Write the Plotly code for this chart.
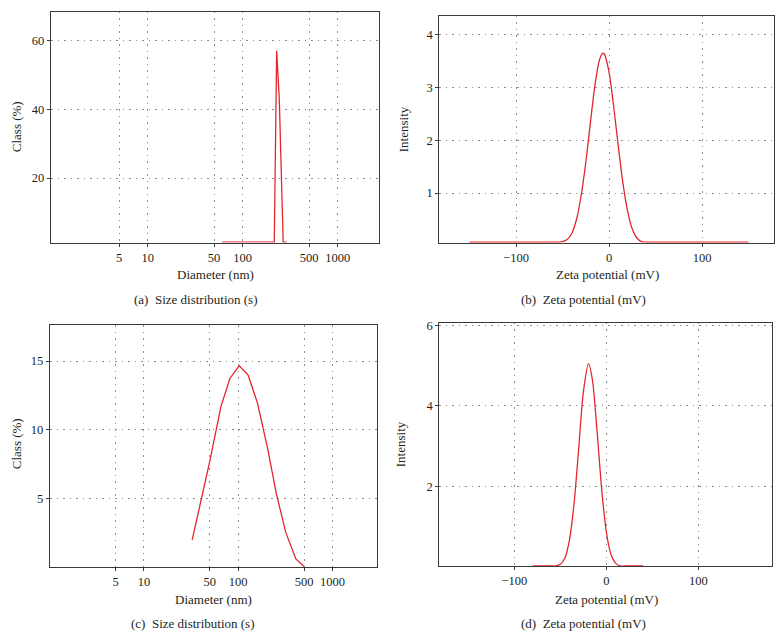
import plotly.graph_objects as go

# ---------------- data ----------------
# (a) size distribution
a_diam = [61, 100, 150, 200, 215, 228, 243, 267, 280, 290]
a_class = [1.3, 1.3, 1.3, 1.3, 1.3, 57.1, 42.7, 1.3, 1.3, 1.3]

# (b) zeta potential
b_mv = [-150, -120, -90, -70, -60, -55, -50, -45, -40, -35, -30, -25, -20, -15, -10,
        -6.5, -5, 0, 5, 10, 15, 20, 25, 30, 35, 40, 45, 60, 90, 120, 150]
b_int = [0.07, 0.07, 0.07, 0.07, 0.07, 0.07, 0.08, 0.12, 0.24, 0.50, 0.95, 1.58, 2.34, 3.06, 3.54,
         3.65, 3.63, 3.29, 2.64, 1.88, 1.18, 0.66, 0.32, 0.15, 0.08, 0.07, 0.07, 0.07, 0.07, 0.07, 0.07]

# (c) size distribution
c_diam = [32.5, 40.5, 50, 65.6, 81.6, 102.5, 127.6, 160.6, 205, 255, 320, 409, 501]
c_class = [1.98, 4.85, 7.71, 11.68, 13.73, 14.65, 13.97, 11.92, 8.67, 5.30, 2.53, 0.60, 0.05]

# (d) zeta potential
d_mv = [-80, -70, -60, -55, -50, -45, -40, -35, -30, -25, -19.3, -15, -10, -5, 0, 5, 10, 15, 20, 30, 40]
d_int = [0.02, 0.02, 0.02, 0.02, 0.06, 0.22, 0.67, 1.58, 2.94, 4.33, 5.05, 4.63, 3.36, 1.92, 0.87, 0.31, 0.09, 0.02, 0.02, 0.02, 0.02]

size_ticks = [5, 10, 50, 100, 500, 1000]
size_ticktext = ["5", "10", "50", "100", "500", "1000"]
zeta_ticks = [-100, 0, 100]
zeta_ticktext = ["\u2212100", "0", "100"]

captions = ["(a)\u2002Size distribution (s)", "(b)\u2002Zeta potential (mV)",
            "(c)\u2002Size distribution (s)", "(d)\u2002Zeta potential (mV)"]

# ---------------- figure ----------------
W, H = 783, 640
RED = "#e3262c"
TXT = "#231f20"
FONT = "Liberation Serif, Times New Roman, serif"

def px_x(px):
    return px / W

def px_y(py):
    return 1 - py / H

fig = go.Figure()
fig.add_trace(go.Scatter(x=a_diam, y=a_class, mode="lines", line=dict(color=RED, width=1.3),
                         xaxis="x", yaxis="y", showlegend=False))
fig.add_trace(go.Scatter(x=b_mv, y=b_int, mode="lines", line=dict(color=RED, width=1.3, shape="spline", smoothing=0.8),
                         xaxis="x2", yaxis="y2", showlegend=False))
fig.add_trace(go.Scatter(x=c_diam, y=c_class, mode="lines", line=dict(color=RED, width=1.3),
                         xaxis="x3", yaxis="y3", showlegend=False))
fig.add_trace(go.Scatter(x=d_mv, y=d_int, mode="lines", line=dict(color=RED, width=1.3, shape="spline", smoothing=0.8),
                         xaxis="x4", yaxis="y4", showlegend=False))

common = dict(showline=True, mirror=True, linecolor="#3a3a3a", linewidth=1.3,
              showgrid=True, gridcolor="#8c8c8c", gridwidth=1, griddash="1.5px,5px",
              zeroline=False, ticks="outside", ticklen=3, tickcolor="#3a3a3a",
              tickfont=dict(family=FONT, size=12.5, color=TXT))

doms = {
    "a": dict(x=[px_x(51), px_x(379)], y=[px_y(240), px_y(8)]),
    "b": dict(x=[px_x(439.3), px_x(774.3)], y=[px_y(240), px_y(11.7)]),
    "c": dict(x=[px_x(50), px_x(376.7)], y=[px_y(566.7), px_y(323.3)]),
    "d": dict(x=[px_x(439.3), px_x(772.3)], y=[px_y(565.7), px_y(321)]),
}

fig.update_layout(
    width=W, height=H, margin=dict(l=0, r=0, t=0, b=0),
    paper_bgcolor="white", plot_bgcolor="white",
    font=dict(family=FONT, color=TXT),
    xaxis=dict(common, type="log", domain=doms["a"]["x"], anchor="y", range=[-0.018, 3.435],
               tickvals=size_ticks, ticktext=size_ticktext),
    yaxis=dict(common, domain=doms["a"]["y"], anchor="x", range=[1.2, 68.4], tickvals=[20, 40, 60]),
    xaxis2=dict(common, domain=doms["b"]["x"], anchor="y2", range=[-182.5, 177.7],
                tickvals=zeta_ticks, ticktext=zeta_ticktext),
    yaxis2=dict(common, domain=doms["b"]["y"], anchor="x2", range=[0.065, 4.36], tickvals=[1, 2, 3, 4]),
    xaxis3=dict(common, type="log", domain=doms["c"]["x"], anchor="y3", range=[0.003, 3.47],
                tickvals=size_ticks, ticktext=size_ticktext),
    yaxis3=dict(common, domain=doms["c"]["y"], anchor="x3", range=[0, 17.6], tickvals=[5, 10, 15]),
    xaxis4=dict(common, domain=doms["d"]["x"], anchor="y4", range=[-181.5, 180.4],
                tickvals=zeta_ticks, ticktext=zeta_ticktext),
    yaxis4=dict(common, domain=doms["d"]["y"], anchor="x4", range=[0.015, 6.06], tickvals=[2, 4, 6]),
)

ann = []
def add_text(text, x, y, angle=0, size=13):
    ann.append(dict(text=text, x=px_x(x), y=px_y(y), xref="paper", yref="paper",
                    showarrow=False, textangle=angle, xanchor="center", yanchor="middle",
                    font=dict(family=FONT, size=size, color=TXT)))

# x-axis titles
add_text("Diameter (nm)", 215, 272)
add_text("Zeta potential (mV)", 607, 272)
add_text("Diameter (nm)", 213, 599)
add_text("Zeta potential (mV)", 606, 599)
# y-axis titles
add_text("Class (%)", 16, 124, angle=-90)
add_text("Intensity", 403, 126, angle=-90)
add_text("Class (%)", 16, 443, angle=-90)
add_text("Intensity", 400, 443, angle=-90)
# captions
add_text(captions[0], 195, 297)
add_text(captions[1], 583, 297)
add_text(captions[2], 192, 623)
add_text(captions[3], 583, 623)

fig.update_layout(annotations=ann)
fig.write_html("out.html", config={"displayModeBar": False},
               post_script="document.body.style.margin='0';document.body.style.overflow='hidden';")
